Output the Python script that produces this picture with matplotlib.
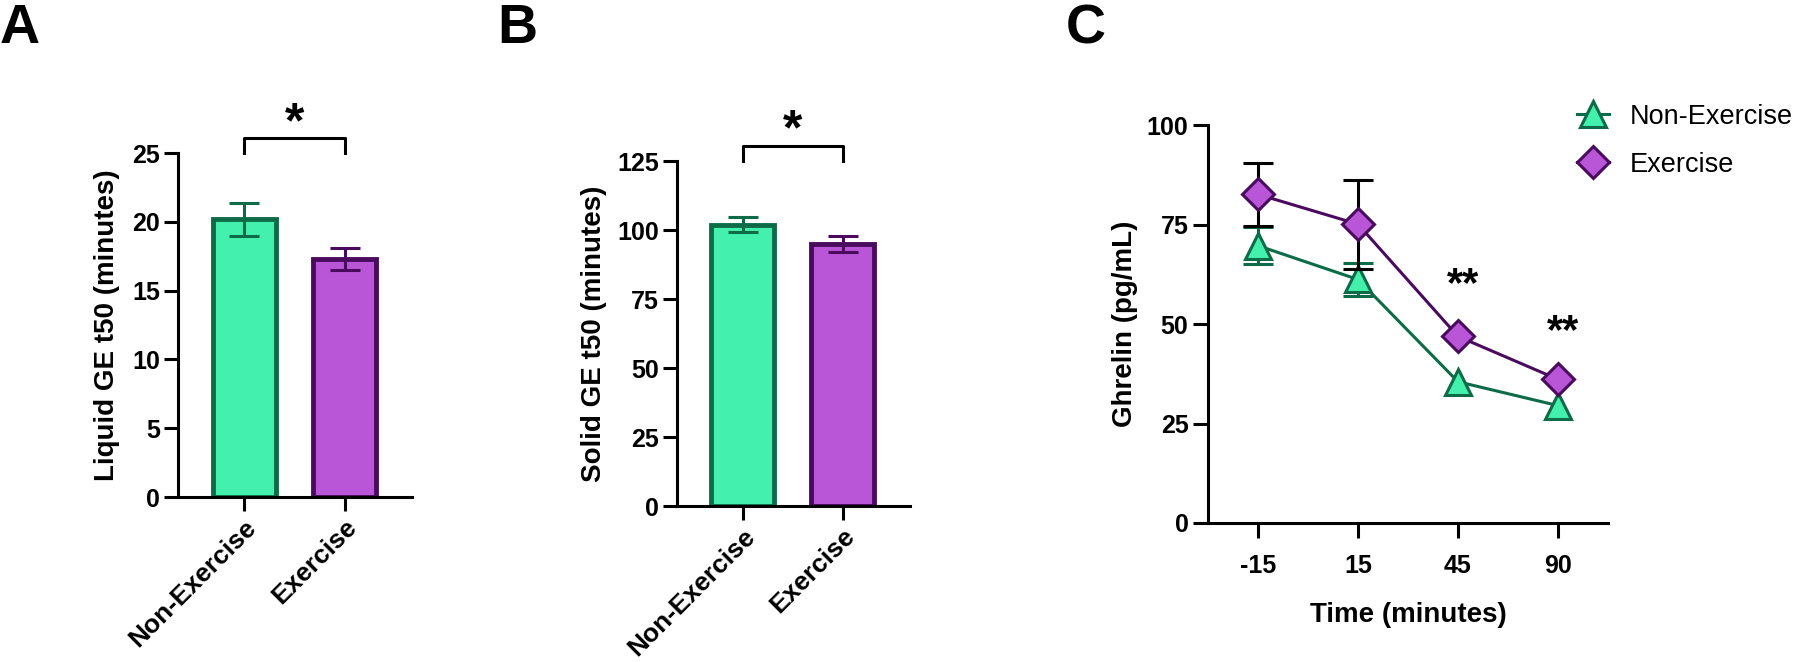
import numpy as np
import matplotlib
matplotlib.use("Agg")
import matplotlib.pyplot as plt
from matplotlib.lines import Line2D

plt.rcParams['font.family'] = ['Liberation Sans', 'DejaVu Sans']
plt.rcParams['font.weight'] = 'bold'

# Data
groups = ["Non-Exercise", "Exercise"]
liquid_mean = [20.2, 17.3]
liquid_sem = [1.2, 0.8]
solid_mean = [102.0, 95.0]
solid_sem = [2.6, 3.0]

time_labels = ["-15", "15", "45", "90"]
ghrelin_nonex = [69.7, 61.2, 35.5, 29.5]
ghrelin_nonex_sem = [4.6, 4.2, np.nan, np.nan]  # hidden behind symbols
ghrelin_ex = [82.6, 75.1, 46.9, 36.1]
ghrelin_ex_sem = [8.0, 11.2, np.nan, np.nan]

green_fill = "#43F0AE"
green_edge = "#0D6B47"
purple_fill = "#B856D7"
purple_edge = "#4A0B5E"

LW = 2.2
TICK_FS = 18
LABEL_FS = 20

fig = plt.figure(figsize=(18, 6.62), dpi=100)


def style_axes(ax):
    for s in ["top", "right"]:
        ax.spines[s].set_visible(False)
    for s in ["left", "bottom"]:
        ax.spines[s].set_linewidth(LW)
    ax.tick_params(axis="both", direction="out", length=10, width=LW,
                   labelsize=TICK_FS, pad=3)


def bar_panel(rect, means, sems, ymax, ystep, ylabel, bracket_y, star_y, label_x):
    ax = fig.add_axes(rect)
    x = np.arange(len(groups))
    ax.bar(x, means, width=0.63, color=[green_fill, purple_fill],
           edgecolor=[green_edge, purple_edge], linewidth=3.5, zorder=2)
    for xi, m, s, c in zip(x, means, sems, [green_edge, purple_edge]):
        ax.errorbar(xi, m, yerr=s, color=c, capsize=11, elinewidth=LW,
                    capthick=LW, zorder=3)
    ax.set_xlim(-0.66, 1.67)
    ax.set_ylim(0, ymax)
    ax.set_yticks(np.arange(0, ymax + 1, ystep))
    ax.set_xticks(x)
    ax.set_xticklabels(groups, rotation=45, ha="right", rotation_mode="anchor")
    style_axes(ax)
    ax.tick_params(axis="x", labelsize=19)
    ax.set_ylabel(ylabel, fontsize=LABEL_FS, fontweight="bold")
    ax.yaxis.set_label_coords(label_x, 0.5)
    # significance bracket
    ax.plot([0, 0, 1, 1], [ymax, bracket_y, bracket_y, ymax], color="black",
            lw=LW, clip_on=False)
    ax.text(0.5, star_y, "*", ha="center", va="center", fontsize=36,
            fontweight="bold", clip_on=False)
    return ax


bar_panel([0.0989, 0.2492, 0.130, 0.5196], liquid_mean, liquid_sem, 25, 5,
          "Liquid GE t50 (minutes)", 26.1, 27.1, -0.25)
bar_panel([0.3761, 0.2356, 0.1294, 0.5211], solid_mean, solid_sem, 125, 25,
          "Solid GE t50 (minutes)", 130.4, 135.8, -0.30)

# Panel C: ghrelin time course
axc = fig.add_axes([0.6711, 0.21, 0.2222, 0.601])
xc = np.arange(len(time_labels))
axc.errorbar(xc, ghrelin_nonex, yerr=ghrelin_nonex_sem, color=green_edge,
             ecolor=green_edge, marker="^", ms=19, mfc=green_fill,
             mec=green_edge, mew=LW, lw=LW, capsize=11, capthick=LW,
             elinewidth=LW, zorder=3)
axc.errorbar(xc, ghrelin_ex, yerr=ghrelin_ex_sem, color=purple_edge,
             ecolor="black", marker="D", ms=16, mfc=purple_fill,
             mec=purple_edge, mew=LW, lw=LW, capsize=11, capthick=LW,
             elinewidth=LW, zorder=4)
axc.set_xlim(-0.5, 3.5)
axc.set_ylim(0, 100)
axc.set_yticks([0, 25, 50, 75, 100])
axc.set_xticks(xc)
axc.set_xticklabels(time_labels)
style_axes(axc)
axc.tick_params(axis="both", length=11)
axc.tick_params(axis="x", pad=11)
axc.set_ylabel("Ghrelin (pg/mL)", fontsize=LABEL_FS, fontweight="bold")
axc.yaxis.set_label_coords(-0.175, 0.5)
axc.set_xlabel("Time (minutes)", fontsize=LABEL_FS, fontweight="bold")
axc.xaxis.set_label_coords(0.5, -0.198)
axc.text(2.05, 59.8, "**", ha="center", va="center", fontsize=30, fontweight="bold")
axc.text(3.05, 47.9, "**", ha="center", va="center", fontsize=30, fontweight="bold")

handles = [
    Line2D([], [], color=green_edge, lw=LW, marker="^", ms=19, mfc=green_fill,
           mec=green_edge, mew=LW),
    Line2D([], [], color=purple_edge, lw=LW, marker="D", ms=16, mfc=purple_fill,
           mec=purple_edge, mew=LW),
]
fig.legend(handles, groups, loc="upper left", bbox_to_anchor=(0.876, 0.843),
           bbox_transform=fig.transFigure, frameon=False, borderpad=0,
           borderaxespad=0, handlelength=1.2, handletextpad=0.75,
           labelspacing=0.8, prop={"size": 19.5, "weight": "normal"})

# panel letters
fig.text(0.0, 0.995, "A", fontsize=40, fontweight="bold", va="top", ha="left")
fig.text(0.276, 0.995, "B", fontsize=40, fontweight="bold", va="top", ha="left")
fig.text(0.592, 0.995, "C", fontsize=40, fontweight="bold", va="top", ha="left")

fig.savefig("out.png", dpi=100)
